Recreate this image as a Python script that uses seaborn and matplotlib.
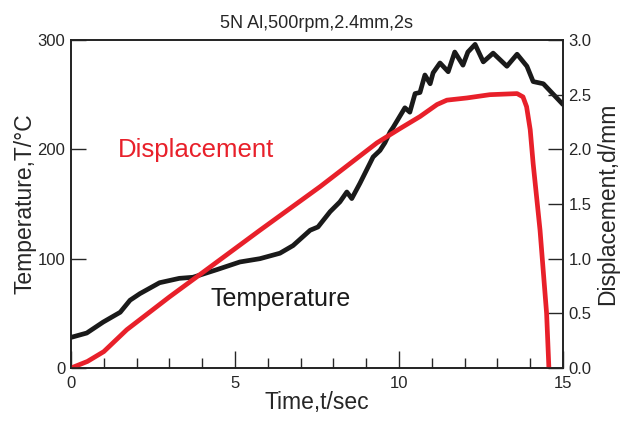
import matplotlib
matplotlib.use("Agg")
import matplotlib.pyplot as plt
import seaborn as sns
import pandas as pd
from matplotlib.ticker import MultipleLocator, FormatStrFormatter

# temperature trace
temp_time = [0.0, 0.48, 0.98, 1.5, 1.8, 2.1, 2.7, 3.3, 3.72, 4.45, 5.15, 5.76, 6.37,
             6.77, 7.29, 7.53, 7.9, 8.2, 8.41, 8.56, 8.81, 8.96, 9.21, 9.42, 9.57,
             9.73, 9.82, 10.18, 10.33, 10.49, 10.64, 10.79, 10.95, 11.04, 11.25,
             11.5, 11.7, 11.95, 12.1, 12.32, 12.57, 12.87, 13.29, 13.6, 13.9, 14.09,
             14.4, 15.0]
temperature = [28, 32, 42, 51, 62, 68, 78, 82, 83, 90, 97, 100, 105,
               112, 126, 129, 143, 152, 161, 155, 169, 178, 193, 199, 206,
               216, 220, 238, 234, 251, 252, 268, 260, 270, 279,
               271, 289, 277, 289, 296, 280, 288, 276, 287, 276, 262,
               260, 241]

# displacement trace
disp_time = [0.0, 0.5, 1.0, 1.7, 3.0, 4.0, 5.76, 7.6, 9.33, 10.03, 10.64, 11.16,
             11.46, 12.07, 12.77, 13.6, 13.78, 13.89, 14.0, 14.09, 14.3, 14.5, 14.57]
displacement = [0.0, 0.06, 0.15, 0.35, 0.65, 0.87, 1.26, 1.66, 2.06, 2.19, 2.30, 2.41,
                2.45, 2.47, 2.50, 2.51, 2.48, 2.39, 2.18, 1.87, 1.26, 0.5, 0.0]

sns.set_style("ticks")
plt.rcParams['font.family'] = ['Liberation Sans', 'DejaVu Sans']

red = '#e8202a'
black = '#1a1a1a'

fig = plt.figure(figsize=(6.25, 4.23), dpi=100)
ax = fig.add_axes([0.1136, 0.130, 0.7872, 0.7754])
ax2 = ax.twinx()

df_t = pd.DataFrame({'t': temp_time, 'T': temperature})
df_d = pd.DataFrame({'t': disp_time, 'd': displacement})

sns.lineplot(data=df_t, x='t', y='T', ax=ax, color=black, linewidth=3.4, sort=False)
sns.lineplot(data=df_d, x='t', y='d', ax=ax2, color=red, linewidth=3.4, sort=False)

ax.set_xlim(0, 15)
ax.set_ylim(0, 300)
ax2.set_ylim(0, 3.0)
ax.xaxis.set_major_locator(MultipleLocator(5))
ax.xaxis.set_minor_locator(MultipleLocator(1))
ax.yaxis.set_major_locator(MultipleLocator(100))
ax2.yaxis.set_major_locator(MultipleLocator(0.5))
ax2.yaxis.set_major_formatter(FormatStrFormatter('%.1f'))

ax.tick_params(axis='x', which='major', direction='in', length=12, width=1, labelsize=12, pad=6)
ax.tick_params(axis='x', which='minor', direction='in', length=7, width=1)
ax.tick_params(axis='y', direction='in', length=11, width=1, labelsize=12, pad=4)
ax2.tick_params(axis='y', direction='in', length=11, width=1, labelsize=12, pad=4)

for a in (ax, ax2):
    for s in a.spines.values():
        s.set_linewidth(1.2)
        s.set_color('#222222')

ax.set_xlabel('Time,t/sec', fontsize=16.5, labelpad=0)
ax.set_ylabel('Temperature,T/\u00b0C', fontsize=16.5, labelpad=1)
ax2.set_ylabel('Displacement,d/mm', fontsize=16.5, labelpad=3)
ax.set_title('5N Al,500rpm,2.4mm,2s', fontsize=13, pad=9)

ax.text(1.43, 199, 'Displacement', color=red, fontsize=18.5, va='center', ha='left')
ax.text(4.24, 63, 'Temperature', color=black, fontsize=18, va='center', ha='left')

fig.savefig('out.png', dpi=100)
